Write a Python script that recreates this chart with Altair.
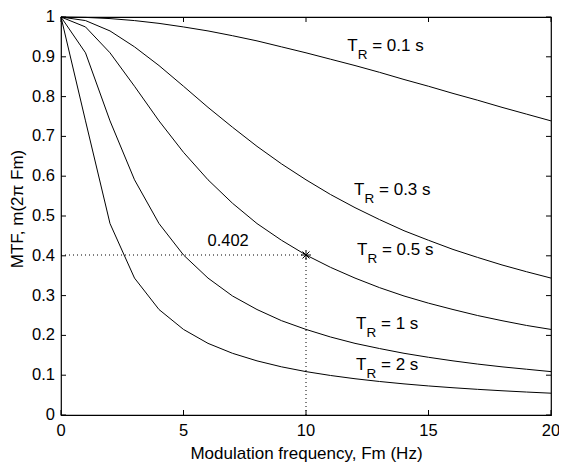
import altair as alt
import pandas as pd

# Modulation frequency samples (Hz)
freq = [0, 1, 2, 3, 4, 5, 6, 7, 8, 9, 10, 11, 12, 13, 14, 15, 16, 17, 18, 19, 20]

# MTF values read for each reverberation time
mtf_01 = [1.000, 0.999, 0.996, 0.991, 0.984, 0.975, 0.965, 0.953, 0.940, 0.925, 0.910,
          0.894, 0.878, 0.861, 0.843, 0.826, 0.808, 0.791, 0.773, 0.756, 0.739]
mtf_03 = [1.000, 0.991, 0.965, 0.925, 0.878, 0.826, 0.773, 0.723, 0.675, 0.631, 0.591,
          0.554, 0.521, 0.491, 0.463, 0.439, 0.416, 0.396, 0.377, 0.360, 0.344]
mtf_05 = [1.000, 0.975, 0.910, 0.826, 0.739, 0.660, 0.591, 0.532, 0.481, 0.439, 0.402,
          0.371, 0.344, 0.320, 0.299, 0.281, 0.265, 0.250, 0.237, 0.225, 0.215]
mtf_1 = [1.000, 0.910, 0.739, 0.591, 0.481, 0.402, 0.344, 0.299, 0.265, 0.237, 0.215,
         0.196, 0.180, 0.167, 0.155, 0.145, 0.136, 0.128, 0.121, 0.115, 0.109]
mtf_2 = [1.000, 0.739, 0.481, 0.344, 0.265, 0.215, 0.180, 0.155, 0.136, 0.121, 0.109,
         0.0993, 0.0911, 0.0842, 0.0782, 0.0730, 0.0685, 0.0645, 0.0609, 0.0577, 0.0548]

series_names = ["0.1 s", "0.3 s", "0.5 s", "1 s", "2 s"]
series_values = [mtf_01, mtf_03, mtf_05, mtf_1, mtf_2]

# Curve label anchors (data coordinates)
label_x = [11.68, 11.96, 12.08, 12.04, 12.04]
label_y = [0.914, 0.553, 0.403, 0.216, 0.113]

# Highlighted point
mark_f = [10]
mark_m = [0.402]
mark_text = ["0.402"]
mark_text_x = [5.98]
mark_text_y = [0.425]

x_ticks = [0, 5, 10, 15, 20]
y_ticks = [0, 0.1, 0.2, 0.3, 0.4, 0.5, 0.6, 0.7, 0.8, 0.9, 1.0]

W, H = 490, 398
FONT = "Liberation Sans"
FS = 17
TFS = 16.5

rows = []
for name, vals in zip(series_names, series_values):
    for f, m in zip(freq, vals):
        rows.append({"F": f, "m": m, "series": name})
df = pd.DataFrame(rows)

lab = pd.DataFrame({"x": label_x, "y": label_y,
                    "rest": ["= " + n for n in series_names]})

xs = alt.Scale(domain=[0, 20], nice=False, zero=False)
ys = alt.Scale(domain=[0, 1], nice=False, zero=False)

lines = alt.Chart(df).mark_line(color="black", strokeWidth=1).encode(
    x=alt.X("F:Q", scale=xs,
            axis=alt.Axis(title="Modulation frequency, Fm (Hz)", labels=False,
                          ticks=False, grid=False, domain=False,
                          titleY=43, titleBaseline="alphabetic")),
    y=alt.Y("m:Q", scale=ys,
            axis=alt.Axis(title="MTF, m(2π Fm)", labels=False,
                          ticks=False, grid=False, domain=False,
                          titleX=-39, titleY=191.5, titleBaseline="alphabetic",
                          titleAngle=-90)),
    detail="series:N",
)

hl = pd.DataFrame({"F": [0, mark_f[0]], "m": [mark_m[0], mark_m[0]]})
vl = pd.DataFrame({"F": [mark_f[0], mark_f[0]], "m": [0, mark_m[0]]})
hline = alt.Chart(hl).mark_line(color="black", strokeWidth=1, strokeDash=[1, 3]).encode(
    x=alt.X("F:Q", scale=xs), y=alt.Y("m:Q", scale=ys))
vline = alt.Chart(vl).mark_line(color="black", strokeWidth=1, strokeDash=[1, 3]).encode(
    x=alt.X("F:Q", scale=xs), y=alt.Y("m:Q", scale=ys))

pt = pd.DataFrame({"F": mark_f, "m": mark_m})
star_path = ("M -1 0 L 1 0 M 0 -1 L 0 1 M -0.7 -0.7 L 0.7 0.7 M -0.7 0.7 L 0.7 -0.7")
star = alt.Chart(pt).mark_point(shape=star_path, size=100, filled=False,
                                color="black", strokeWidth=1, opacity=1).encode(
    x=alt.X("F:Q", scale=xs), y=alt.Y("m:Q", scale=ys))

vt = pd.DataFrame({"x": mark_text_x, "y": mark_text_y, "t": mark_text})
val_text = alt.Chart(vt).mark_text(align="left", baseline="alphabetic", font=FONT,
                                   fontSize=TFS, color="black").encode(
    x=alt.X("x:Q", scale=xs), y=alt.Y("y:Q", scale=ys), text="t:N")

t_main = alt.Chart(lab).mark_text(align="left", baseline="alphabetic", font=FONT,
                                  fontSize=FS, color="black").encode(
    x=alt.X("x:Q", scale=xs), y=alt.Y("y:Q", scale=ys), text=alt.value("T"))
t_sub = alt.Chart(lab).mark_text(align="left", baseline="alphabetic", font=FONT,
                                 fontSize=13.5, color="black", dx=10.5, dy=8).encode(
    x=alt.X("x:Q", scale=xs), y=alt.Y("y:Q", scale=ys), text=alt.value("R"))
t_rest = alt.Chart(lab).mark_text(align="left", baseline="alphabetic", font=FONT,
                                  fontSize=FS, color="black", dx=25).encode(
    x=alt.X("x:Q", scale=xs), y=alt.Y("y:Q", scale=ys), text="rest:N")

# Inside ticks on all four sides, and tick labels
xt = pd.DataFrame({"t": x_ticks})
yt = pd.DataFrame({"t": y_ticks})
tick_b = alt.Chart(xt).mark_rule(color="black", strokeWidth=1).encode(
    x=alt.X("t:Q", scale=xs), y=alt.value(H), y2=alt.value(H - 5))
tick_t = alt.Chart(xt).mark_rule(color="black", strokeWidth=1).encode(
    x=alt.X("t:Q", scale=xs), y=alt.value(0), y2=alt.value(5))
tick_l = alt.Chart(yt).mark_rule(color="black", strokeWidth=1).encode(
    y=alt.Y("t:Q", scale=ys), x=alt.value(0), x2=alt.value(5))
tick_r = alt.Chart(yt).mark_rule(color="black", strokeWidth=1).encode(
    y=alt.Y("t:Q", scale=ys), x=alt.value(W - 5), x2=alt.value(W))
xlab = alt.Chart(xt).mark_text(align="center", baseline="top", font=FONT,
                               fontSize=TFS, color="black").encode(
    x=alt.X("t:Q", scale=xs), y=alt.value(H + 8), text=alt.Text("t:Q", format="~g"))
ylab = alt.Chart(yt).mark_text(align="right", baseline="middle", font=FONT,
                               fontSize=TFS, color="black").encode(
    y=alt.Y("t:Q", scale=ys), x=alt.value(-6), text=alt.Text("t:Q", format="~g"))

chart = alt.layer(
    lines, hline, vline, star, val_text, t_main, t_sub, t_rest,
    tick_b, tick_t, tick_l, tick_r, xlab, ylab,
).properties(
    width=W, height=H,
    autosize=alt.AutoSizeParams(type="none"),
    padding={"left": 53, "top": 9, "right": 8, "bottom": 48},
    background="white",
).configure_view(
    stroke="black", strokeWidth=1.2
).configure_axis(
    titleFont=FONT, titleFontSize=FS, titleColor="black", titleFontWeight="normal",
)

chart.save("out.html", embed_options={"renderer": "svg", "actions": False})
